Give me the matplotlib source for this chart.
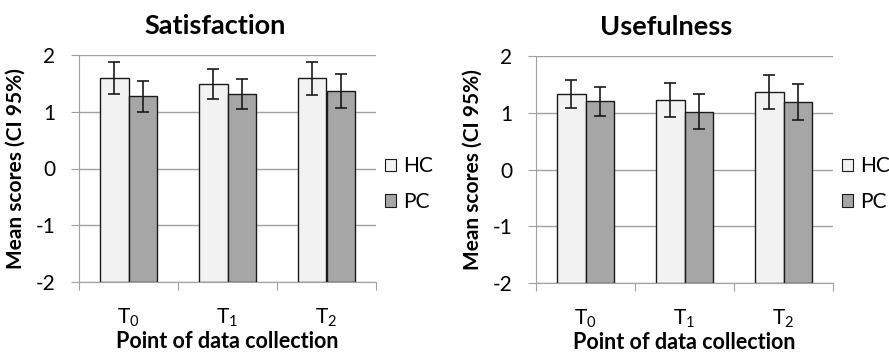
import matplotlib.pyplot as plt
import numpy as np

plt.rcParams['font.family'] = ['Lato', 'DejaVu Sans']
plt.rcParams['mathtext.fontset'] = 'custom'
plt.rcParams['mathtext.rm'] = 'Lato'
plt.rcParams['mathtext.it'] = 'Lato:italic'

# data
timepoints = ['$\\mathrm{T}_0$', '$\\mathrm{T}_1$', '$\\mathrm{T}_2$']
groups = ['HC', 'PC']

sat_hc = [1.59, 1.49, 1.59]
sat_pc = [1.27, 1.31, 1.37]
sat_hc_err = [0.28, 0.26, 0.29]
sat_pc_err = [0.28, 0.26, 0.30]

use_hc = [1.33, 1.23, 1.36]
use_pc = [1.20, 1.02, 1.19]
use_hc_err = [0.25, 0.30, 0.30]
use_pc_err = [0.25, 0.31, 0.31]

colors = ['#f2f2f2', '#a6a6a6']
base = -2

W, H = 889, 355
fig = plt.figure(figsize=(W / 100, H / 100), dpi=100)
ax1 = fig.add_axes([79 / W, 1 - 282 / H, 297 / W, 227 / H])
ax2 = fig.add_axes([536 / W, 1 - 283 / H, 297 / W, 227 / H])


def draw(ax, title, title_x, legend_x, hc, pc, hc_err, pc_err):
    x = np.arange(len(timepoints))
    w = 0.285
    for i, (vals, errs) in enumerate([(hc, hc_err), (pc, pc_err)]):
        vals = np.array(vals)
        pos = x - w / 2 + i * w
        ax.bar(pos, vals - base, bottom=base, width=w, color=colors[i],
               edgecolor='#1a1a1a', linewidth=1, label=groups[i], zorder=3)
        ax.errorbar(pos, vals, yerr=errs, fmt='none', ecolor='#1a1a1a',
                    elinewidth=1.2, capsize=4, capthick=1.2, zorder=4)
    ax.set_xlim(-0.5, 2.5)
    ax.set_ylim(-2, 2)
    ax.set_yticks([-2, -1, 0, 1, 2])
    ax.set_yticklabels(['-2', '-1', '0', '1', '2'])
    ax.set_xticks([-0.5, 0.5, 1.5, 2.5])
    ax.set_xticklabels([])
    ax.set_xticks(x, minor=True)
    ax.set_xticklabels(timepoints, minor=True)
    ax.tick_params(axis='x', which='minor', length=0, labelsize=15, pad=18)
    ax.tick_params(axis='x', which='major', length=6, color='#a0a0a0')
    ax.tick_params(axis='y', length=6, color='#a0a0a0', labelsize=15, pad=11)
    ax.grid(axis='y', color='#a0a0a0', linewidth=1, zorder=0)
    for s in ['top', 'right']:
        ax.spines[s].set_visible(False)
    ax.spines['left'].set_color('#a0a0a0')
    ax.spines['bottom'].set_color('#a0a0a0')
    ax.spines['bottom'].set_zorder(5)
    ax.set_title(title, fontsize=19.5, fontweight='bold', pad=15, x=title_x)
    ax.set_ylabel('Mean scores (CI 95%)', fontsize=15, fontweight='bold', labelpad=7)
    ax.set_xlabel('Point of data collection', fontsize=15.5, fontweight='bold', labelpad=1)
    leg = ax.legend(loc='center left', bbox_to_anchor=(legend_x / W, 1 - 184 / H),
                    bbox_transform=fig.transFigure, frameon=False,
                    fontsize=15, handlelength=0.55, handleheight=0.55,
                    handletextpad=0.3, labelspacing=0.75, borderpad=0, borderaxespad=0)
    for p in leg.get_patches():
        p.set_linewidth(0.8)


draw(ax1, 'Satisfaction', 0.458, 385, sat_hc, sat_pc, sat_hc_err, sat_pc_err)
draw(ax2, 'Usefulness', 0.438, 842, use_hc, use_pc, use_hc_err, use_pc_err)

fig.savefig('out.png', dpi=100)
